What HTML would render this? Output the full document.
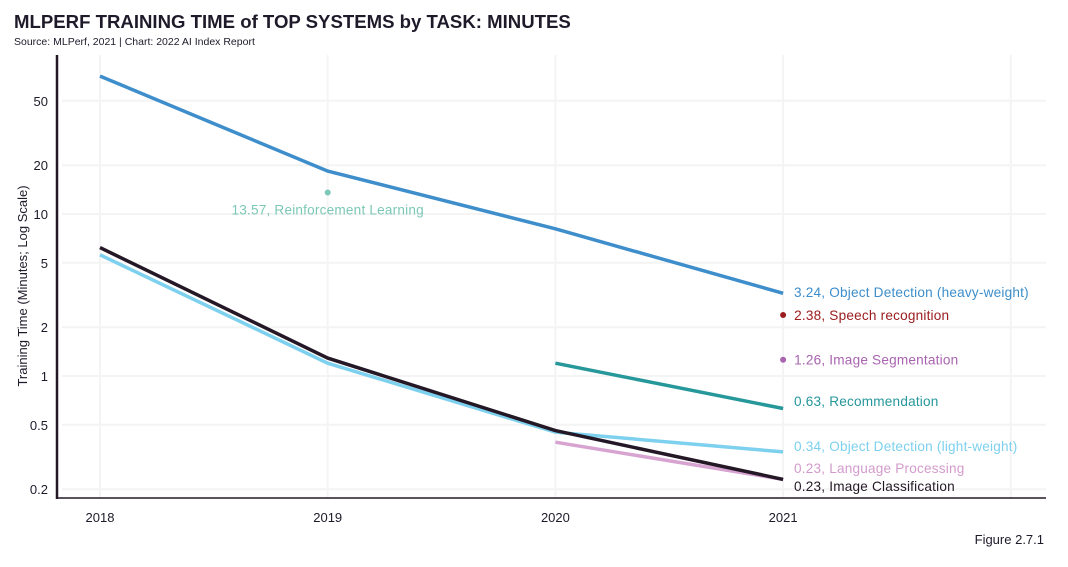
<!DOCTYPE html>
<html><head><meta charset="utf-8"><style>
body{margin:0;background:#fff;width:1068px;height:562px;overflow:hidden;font-family:"Liberation Sans",sans-serif}
svg text{font-family:"Liberation Sans",sans-serif}
</style></head><body>
<svg id="chart" width="1068" height="562" xmlns="http://www.w3.org/2000/svg">
<text x="14" y="28" font-size="18.6" font-weight="bold" fill="#1f1a2a">MLPERF TRAINING TIME of TOP SYSTEMS by TASK: MINUTES</text>
<text x="14" y="45" font-size="10.5" fill="#1f1a2a">Source: MLPerf, 2021 | Chart: 2022 AI Index Report</text>
<text transform="translate(27,286) rotate(-90)" text-anchor="middle" font-size="13" fill="#1f1a2a">Training Time (Minutes; Log Scale)</text>
<text x="1044" y="544" text-anchor="end" font-size="13" fill="#1f1a2a">Figure 2.7.1</text>
<g id="grid"></g><g id="marks"></g>
</svg>
<script>
const years=[2018,2019,2020,2021];
const yTicks=[50,20,10,5,2,1,0.5,0.2];
const seriesNames=["Object Detection (heavy-weight)","Image Classification","Object Detection (light-weight)","Recommendation","Language Processing"];
const heavyVals=[71,18.4,8.1,3.24];
const classVals=[6.2,1.29,0.46,0.23];
const lightVals=[5.6,1.2,0.45,0.34];
const recVals=[null,null,1.2,0.63];
const langVals=[null,null,0.39,0.23];
const colors=["#3d8ecb","#241826","#7dd0ee","#26979a","#d7a3d1"];
const labelY=[297,491,451,406,473];
const pointNames=["Reinforcement Learning","Speech recognition","Image Segmentation"];
const pointYears=[2019,2021,2021];
const pointVals=[13.57,2.38,1.26];
const pointColors=["#7cc8b6","#9b1d20","#a964b0"];
const NS="http://www.w3.org/2000/svg";
const xS=yr=>100+(yr-2018)*227.7;
const yS=v=>376-162*Math.log10(v);
function mk(t,a,p){const e=document.createElementNS(NS,t);for(const k in a)e.setAttribute(k,a[k]);p.appendChild(e);return e;}
const g=document.getElementById('grid'),m=document.getElementById('marks');
yTicks.forEach(v=>{
 const l=mk('line',{x1:62,x2:1046,y1:yS(v),y2:yS(v),stroke:'#f4f4f4','stroke-width':2},g);
 
 
 const t=mk('text',{x:48,y:yS(v)+5,'text-anchor':'end','font-size':13,fill:'#1f1a2a'},g);t.textContent=v;
 
 
});
[2018,2019,2020,2021,2022].forEach(yr=>{
 const l=mk('line',{x1:xS(yr),x2:xS(yr),y1:55,y2:498,stroke:'#f4f4f4','stroke-width':2},g);
 
 
});
years.forEach(yr=>{
 const t=mk('text',{x:xS(yr),y:522,'text-anchor':'middle','font-size':13,fill:'#1f1a2a'},g);t.textContent=yr;
 
 
});
const ya=mk('line',{x1:57,x2:57,y1:55,y2:499,stroke:'#241826','stroke-width':2.5},g);


const xa=mk('line',{x1:57,x2:1046,y1:498,y2:498,stroke:'#241826','stroke-width':1.5},g);


const all=[heavyVals,classVals,lightVals,recVals,langVals];
const order=[4,2,3,0,1];
order.forEach(i=>{
 const vals=all[i];const pts=[];
 vals.forEach((v,j)=>{if(v!=null)pts.push(xS(years[j]).toFixed(1)+','+yS(v).toFixed(1));});
 const pl=mk('polyline',{points:pts.join(' '),fill:'none',stroke:colors[i],'stroke-width':3.5},m);
 
 
});
seriesNames.forEach((n,i)=>{
 const last=all[i][3];
 const t=mk('text',{x:794,y:labelY[i],'font-size':13.6,'letter-spacing':0.2,fill:colors[i]==='#d7a3d1'?'#d39bcc':colors[i]},m);
 t.textContent=last+', '+n;
 
 
});
pointNames.forEach((n,i)=>{
 const cx=xS(pointYears[i]),cy=yS(pointVals[i]);
 const c=mk('circle',{cx:cx,cy:cy,r:3,fill:pointColors[i]},m);
 
 
 const t=i===0?mk('text',{x:cx,y:cy+22,'text-anchor':'middle','font-size':13.6,'letter-spacing':0.2,fill:pointColors[i]},m):mk('text',{x:cx+11,y:cy+5,'font-size':13.6,'letter-spacing':0.2,fill:pointColors[i]},m);
 t.textContent=pointVals[i]+', '+n;
 
 
});
</script>
</body></html>
